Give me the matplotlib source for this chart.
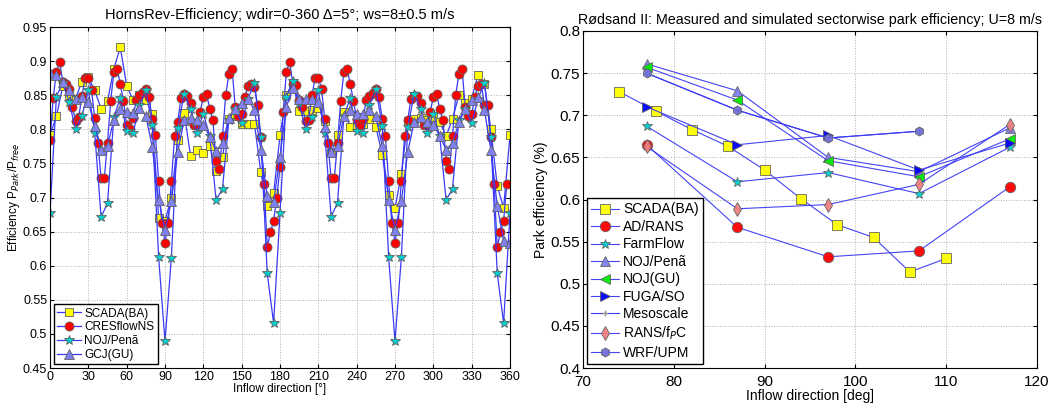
import numpy as np
import matplotlib.pyplot as plt
from matplotlib.ticker import FuncFormatter

plt.rcParams['font.family'] = ['Liberation Sans', 'DejaVu Sans']

# ---------------- Horns Rev (left) ----------------
# simulations and SCADA every 5 deg, CRESflowNS every 2.5 deg
dir5 = np.arange(0, 361, 5)
dir25 = np.arange(0, 360, 2.5)

scada_hr = [0.792, 0.819, 0.863, 0.850, 0.845, 0.870, 0.876, 0.857, 0.830, 0.841,
            0.889, 0.920, 0.864, 0.843, 0.850, 0.843, 0.823, 0.670, 0.666, 0.700,
            0.785, 0.824, 0.761, 0.770, 0.765, 0.776, 0.739, 0.760, 0.815, 0.820,
            0.808, 0.808, 0.808, 0.737, 0.688, 0.706, 0.791, 0.850, 0.868, 0.827,
            0.827, 0.829, 0.831, 0.812, 0.765, 0.792, 0.826, 0.804, 0.806, 0.808,
            0.815, 0.804, 0.763, 0.703, 0.684, 0.735, 0.812, 0.815, 0.816, 0.814,
            0.818, 0.811, 0.790, 0.815, 0.850, 0.838, 0.845, 0.880, 0.867, 0.800,
            0.717, 0.685, 0.791]

cres_hr = [0.784, 0.846, 0.884, 0.899, 0.870, 0.867, 0.859, 0.833, 0.812, 0.818,
           0.849, 0.875, 0.875, 0.858, 0.816, 0.780, 0.728, 0.728, 0.780, 0.842,
           0.884, 0.889, 0.866, 0.842, 0.806, 0.801, 0.816, 0.843, 0.850, 0.855,
           0.859, 0.847, 0.815, 0.791, 0.724, 0.663, 0.634,
           0.663, 0.724, 0.790, 0.811, 0.846, 0.852, 0.849, 0.838, 0.806, 0.806,
           0.826, 0.847, 0.852, 0.830, 0.813, 0.753, 0.742, 0.790, 0.850, 0.881,
           0.888, 0.832, 0.819, 0.822, 0.847, 0.863, 0.866, 0.862, 0.836, 0.789,
           0.720, 0.627, 0.649, 0.666, 0.700, 0.744,
           0.825, 0.884, 0.899, 0.867, 0.865, 0.843, 0.833, 0.812, 0.814, 0.850,
           0.875, 0.875, 0.859, 0.815, 0.780, 0.728, 0.728, 0.780, 0.842, 0.884,
           0.889, 0.866, 0.842, 0.814, 0.806, 0.815, 0.843, 0.849, 0.853, 0.859,
           0.847, 0.815, 0.790, 0.724, 0.663, 0.634,
           0.663, 0.724, 0.790, 0.814, 0.845, 0.849, 0.849, 0.838, 0.806, 0.806,
           0.826, 0.847, 0.852, 0.830, 0.813, 0.753, 0.742, 0.790, 0.850, 0.881,
           0.888, 0.832, 0.819, 0.822, 0.847, 0.863, 0.866, 0.836, 0.836, 0.789,
           0.720, 0.627, 0.649, 0.666, 0.720]

noj_hr = [0.677, 0.848, 0.868, 0.840, 0.800, 0.819, 0.858, 0.795, 0.671, 0.692,
          0.818, 0.846, 0.797, 0.794, 0.835, 0.857, 0.807, 0.613, 0.489, 0.612,
          0.802, 0.852, 0.830, 0.795, 0.823, 0.790, 0.696, 0.713, 0.814, 0.830,
          0.809, 0.845, 0.868, 0.788, 0.589, 0.516, 0.677, 0.848, 0.871, 0.838,
          0.800, 0.818, 0.858, 0.795, 0.672, 0.692, 0.819, 0.846, 0.797, 0.794,
          0.835, 0.859, 0.805, 0.613, 0.489, 0.613, 0.803, 0.852, 0.830, 0.795,
          0.823, 0.790, 0.696, 0.713, 0.814, 0.830, 0.809, 0.845, 0.868, 0.788,
          0.589, 0.516, 0.677]

gcj_hr = [0.882, 0.879, 0.869, 0.857, 0.845, 0.847, 0.840, 0.805, 0.770, 0.776,
          0.814, 0.830, 0.825, 0.824, 0.831, 0.820, 0.774, 0.697, 0.652, 0.695,
          0.767, 0.814, 0.816, 0.814, 0.807, 0.789, 0.768, 0.780, 0.816, 0.830,
          0.839, 0.844, 0.828, 0.770, 0.702, 0.693, 0.760, 0.833, 0.860, 0.845,
          0.844, 0.844, 0.840, 0.804, 0.766, 0.776, 0.819, 0.829, 0.823, 0.823,
          0.829, 0.819, 0.775, 0.697, 0.653, 0.695, 0.767, 0.811, 0.818, 0.811,
          0.807, 0.790, 0.770, 0.780, 0.810, 0.830, 0.843, 0.847, 0.828, 0.770,
          0.688, 0.636, 0.634]

# ---------------- Rodsand II (right) ----------------
scada_x = [74, 78, 82, 86, 90, 94, 98, 102, 106, 110]
scada_rs = [0.728, 0.705, 0.683, 0.663, 0.635, 0.601, 0.570, 0.555, 0.514, 0.530]
sim_x = [77, 87, 97, 107, 117]
adrans = [0.665, 0.567, 0.532, 0.539, 0.615]
farmflow = [0.687, 0.621, 0.632, 0.607, 0.662]
noj_pena = [0.761, 0.729, 0.650, 0.633, 0.685]
noj_gu = [0.757, 0.718, 0.646, 0.627, 0.672]
fuga = [0.710, 0.665, 0.676, 0.635, 0.667]
wrf_x = [77, 87, 97, 107]
mesoscale = [0.750, 0.706, 0.673, 0.681]
rans_fpc = [0.663, 0.589, 0.594, 0.618, 0.689]
wrf = [0.750, 0.706, 0.673, 0.681]

line_col = '#3a3af5'
edge = '#606060'

fig = plt.figure(figsize=(10.62, 4.03), dpi=100)
ax1 = fig.add_axes([50 / 1062, 1 - 368 / 403, 460 / 1062, 341 / 403])
ax2 = fig.add_axes([583 / 1062, 1 - 368 / 403, 454 / 1062, 337 / 403])

fmt = FuncFormatter(lambda v, p: '%g' % round(v, 3))

kw = dict(color=line_col, lw=0.9, mec=edge, mew=0.6)
ax1.plot(dir5, scada_hr, 's-', mfc='#ffff00', ms=5.5, label='SCADA(BA)', **kw)
ax1.plot(dir25, cres_hr, 'o-', mfc='#ff0000', ms=6.5, label='CRESflowNS', **kw)
ax1.plot(dir5, noj_hr, '*-', mfc='#00d0d0', ms=7, label='NOJ/Penã', **kw)
ax1.plot(dir5, gcj_hr, '^-', mfc='#8080f0', ms=6.5, label='GCJ(GU)', **kw)

ax1.set_xlim(0, 360)
ax1.set_ylim(0.45, 0.95)
ax1.set_xticks(np.arange(0, 361, 30))
ax1.set_yticks(np.arange(0.45, 0.951, 0.05))
ax1.yaxis.set_major_formatter(fmt)
ax1.tick_params(direction='in', top=True, right=True, labelsize=9, pad=2, length=3)
ax1.grid(True, ls=':', color='#b0b0b0', lw=0.7)
ax1.set_xlabel('Inflow direction [°]', fontsize=8.5, labelpad=0)
ax1.set_ylabel('Efficiency P$_{Park}$/P$_{free}$', fontsize=8.5, labelpad=1)
ax1.set_title('HornsRev-Efficiency; wdir=0-360 Δ=5°; ws=8±0.5 m/s', fontsize=10.5, pad=6)
ax1.legend(loc='lower left', fontsize=8.5, fancybox=False, edgecolor='black',
           framealpha=1, borderpad=0.3, labelspacing=0.15, handlelength=2.0,
           handletextpad=0.3, borderaxespad=0.3)

kw2 = dict(color=line_col, lw=0.8, mec=edge, mew=0.6, alpha=0.95)
ax2.plot(scada_x, scada_rs, 's-', mfc='#ffff00', ms=7, label='SCADA(BA)', **kw2)
ax2.plot(sim_x, adrans, 'o-', mfc='#ff0000', ms=7.5, label='AD/RANS', **kw2)
ax2.plot(sim_x, farmflow, '*-', mfc='#00d0d0', ms=7, label='FarmFlow', **kw2)
ax2.plot(sim_x, noj_pena, '^-', mfc='#8080f0', ms=7.5, label='NOJ/Penã', **kw2)
ax2.plot(sim_x, noj_gu, '<-', mfc='#00ee00', ms=7.5, label='NOJ(GU)', **kw2)
ax2.plot(sim_x, fuga, '>-', mfc='#0000ff', ms=7.5, label='FUGA/SO', **kw2)
ax2.plot(wrf_x, mesoscale, '+-', ms=5, label='Mesoscale', color=line_col, lw=0.8,
         mec='#909090', mew=1.0)
ax2.plot(sim_x, rans_fpc, 'd-', mfc='#f08080', ms=7.5, label='RANS/f$_P$C', **kw2)
ax2.plot(wrf_x, wrf, 'h-', mfc='#7070d8', ms=6.5, label='WRF/UPM', **kw2)

ax2.set_xlim(70, 120)
ax2.set_ylim(0.4, 0.8)
ax2.set_xticks(np.arange(70, 121, 10))
ax2.set_yticks(np.arange(0.4, 0.801, 0.05))
ax2.yaxis.set_major_formatter(fmt)
ax2.tick_params(direction='in', top=True, right=True, labelsize=11, pad=2, length=3)
ax2.tick_params(axis='x', pad=5)
ax2.grid(True, ls=':', color='#b0b0b0', lw=0.7)
ax2.set_xlabel('Inflow direction [deg]', fontsize=10, labelpad=0)
ax2.set_ylabel('Park efficiency (%)', fontsize=10, labelpad=2)
ax2.set_title('Rødsand II: Measured and simulated sectorwise park efficiency; U=8 m/s',
              fontsize=10.3, pad=5)
ax2.legend(loc='lower left', fontsize=10, fancybox=False, edgecolor='black',
           framealpha=1, borderpad=0.3, labelspacing=0.25, handlelength=2.0,
           handletextpad=0.3, borderaxespad=0.3)

fig.savefig('out.png', dpi=100)
